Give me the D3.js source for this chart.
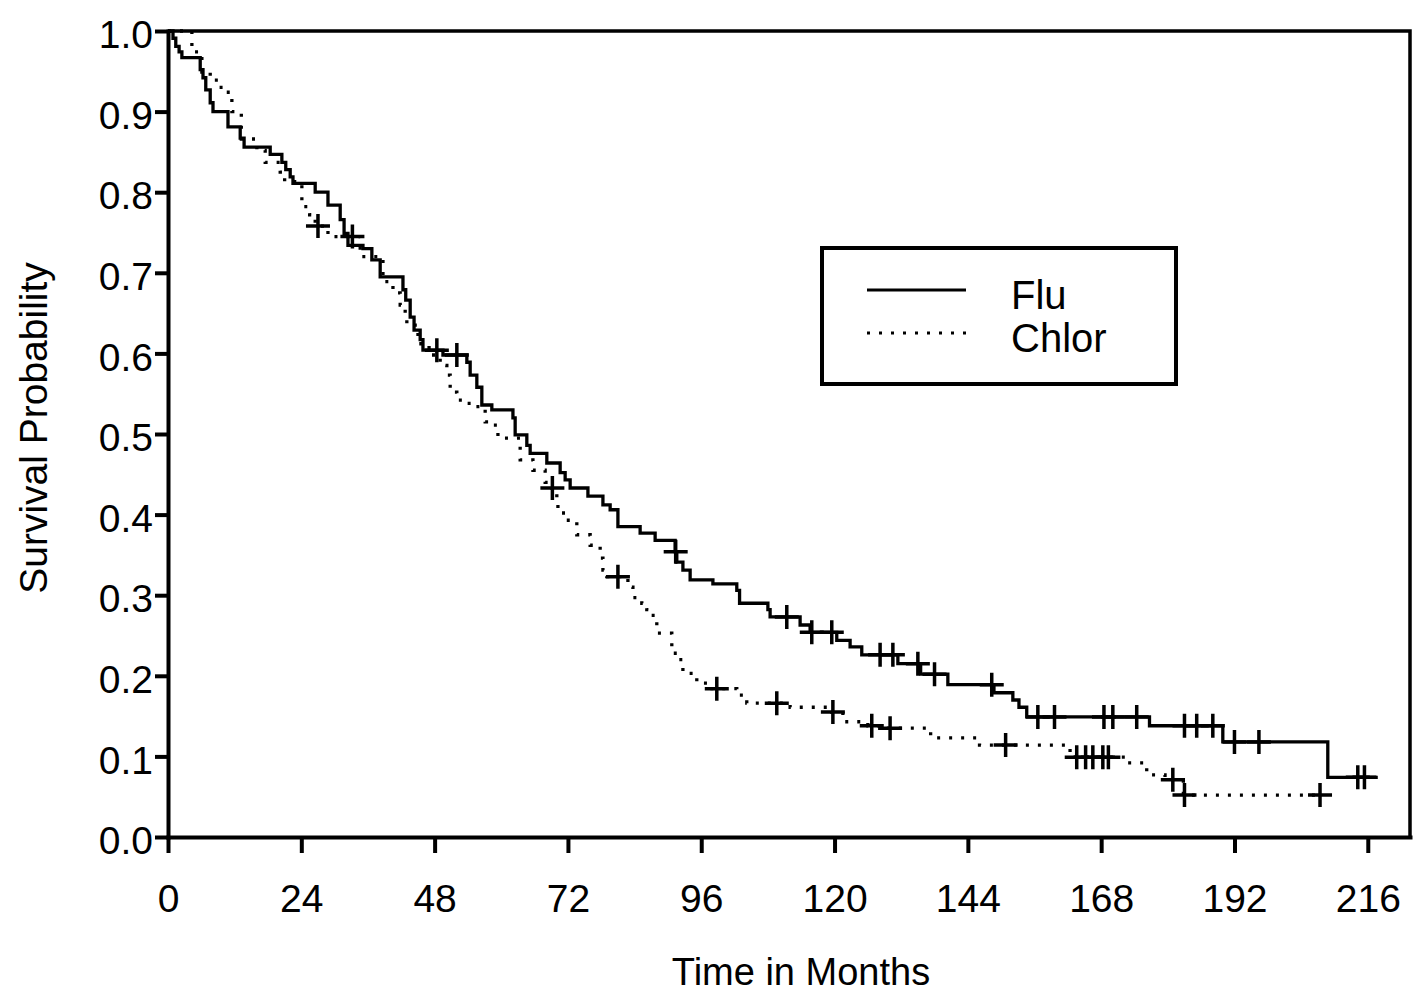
<!DOCTYPE html>
<html>
<head>
<meta charset="utf-8">
<script src="https://cdn.jsdelivr.net/npm/d3@7"></script>
<style>
  body { margin: 0; background: #fff; }
  text { font-family: "Liberation Sans", Arial, sans-serif; fill: #000; }
</style>
</head>
<body>
<div id="chart"></div>
<script>
// Kaplan-Meier curves, Flu vs Chlor
var svgWidth = 1413;
var svgHeight = 995;

// tick labels
var xTicks = [0, 24, 48, 72, 96, 120, 144, 168, 192, 216];
var yTicks = [0, 0.1, 0.2, 0.3, 0.4, 0.5, 0.6, 0.7, 0.8, 0.9, 1.0];

// Flu: step times (months) and survival after each step
var fluTime = [0, 0.9, 1.4, 2.0, 2.5, 5.8, 6.3, 6.8, 7.6, 8.1, 10.8, 13.0, 13.7, 18.4, 20.5, 21.2, 22.0, 22.5,
  26.5, 28.8, 31.0, 31.7, 32.4, 35.1, 36.7, 38.2, 42.3, 42.8, 43.6, 44.3, 45.4, 45.9, 49.5, 53.8, 54.4,
  55.6, 56.5, 58.3, 62.1, 62.5, 64.6, 65.2, 68.2, 70.6, 71.5, 72.4, 75.6, 78.3, 79.6, 81.0, 85.0, 87.7,
  91.3, 91.6, 92.7, 94.0, 98.1, 102.4, 102.9, 108.0, 108.4, 113.8, 115.6, 120.4, 122.8, 124.9, 131.4,
  135.5, 140.4, 148.7, 152.1, 153.2, 154.6, 176.7, 189.9, 208.8, 217.8];
var fluSurv = [1.0, 0.991, 0.981, 0.974, 0.967, 0.952, 0.942, 0.927, 0.911, 0.900, 0.881, 0.867, 0.856, 0.847, 0.837, 0.828, 0.819, 0.811,
  0.800, 0.784, 0.766, 0.749, 0.734, 0.730, 0.716, 0.695, 0.679, 0.666, 0.645, 0.629, 0.617, 0.604, 0.598, 0.589, 0.573,
  0.558, 0.536, 0.530, 0.520, 0.499, 0.486, 0.476, 0.464, 0.452, 0.443, 0.433, 0.423, 0.412, 0.406, 0.385, 0.377, 0.368,
  0.354, 0.341, 0.331, 0.319, 0.314, 0.306, 0.290, 0.282, 0.273, 0.263, 0.254, 0.244, 0.236, 0.226, 0.215,
  0.202, 0.189, 0.179, 0.170, 0.161, 0.149, 0.138, 0.118, 0.074, 0.074];
var fluCensor = [48.4, 52.0, 91.4, 111.4, 115.9, 119.5, 128.2, 130.5, 135.0, 138.0, 148.3, 156.6, 159.6,
  168.5, 170.1, 174.4, 183.0, 185.2, 188.1, 192.0, 196.4, 214.2, 215.4];

// Chlor
var chlorTime = [0, 4.3, 6.1, 7.6, 9.0, 10.3, 11.5, 13.2, 16.0, 17.5, 20.2, 21.0, 24.1, 25.5, 26.5, 28.8,
  34.6, 38.7, 40.5, 41.8, 42.7, 43.0, 45.0, 47.0, 49.0, 50.2, 50.8, 52.0, 53.1, 54.7, 57.1, 58.5, 59.4,
  63.4, 65.7, 67.9, 69.1, 70.0, 70.2, 71.5, 73.6, 76.0, 77.8, 78.3, 79.0, 82.8, 83.7, 85.3, 86.2, 86.8,
  88.0, 90.7, 91.8, 92.7, 95.2, 97.5, 102.4, 104.2, 112.0, 119.5, 121.5, 126.0, 128.0, 137.3, 146.1,
  162.4, 172.8, 176.2, 179.5, 182.8, 207.4];
var chlorSurv = [1.0, 0.974, 0.949, 0.939, 0.930, 0.924, 0.900, 0.866, 0.852, 0.837, 0.825, 0.813, 0.782, 0.772, 0.758, 0.745,
  0.720, 0.689, 0.675, 0.660, 0.648, 0.635, 0.612, 0.598, 0.585, 0.573, 0.552, 0.542, 0.538, 0.534, 0.515, 0.511, 0.495,
  0.468, 0.455, 0.440, 0.433, 0.420, 0.402, 0.393, 0.375, 0.362, 0.346, 0.331, 0.323, 0.310, 0.297, 0.290, 0.282, 0.275,
  0.253, 0.228, 0.220, 0.203, 0.191, 0.184, 0.176, 0.166, 0.161, 0.155, 0.143, 0.138, 0.135, 0.123, 0.114,
  0.099, 0.092, 0.077, 0.071, 0.052, 0.052];
var chlorCensor = [27.0, 33.2, 69.2, 81.0, 98.8, 109.6, 119.7, 126.7, 130.0, 150.8, 163.6, 165.2, 166.5,
  168.3, 169.3, 180.9, 183.0, 207.4];

var svg = d3.select("#chart")
  .append("svg")
  .attr("width", svgWidth)
  .attr("height", svgHeight);

var x = d3.scaleLinear().domain([0, 223.6]).range([168, 1410]);
var y = d3.scaleLinear().domain([0, 1]).range([837, 31]);

// frame (top and right)
svg.append("path")
  .attr("d", `M${x(0)},${y(1)}H${x.range()[1]}V${y(0)}`)
  .attr("fill", "none")
  .attr("stroke", "#000")
  .attr("stroke-width", 3.5);

// y axis
var yAxis = svg.append("g")
  .attr("transform", `translate(${x(0)},0)`)
  .call(d3.axisLeft(y).tickValues(yTicks).tickSize(13).tickSizeOuter(0).tickPadding(2)
    .tickFormat(d3.format(".1f")));
yAxis.select(".domain").attr("stroke-width", 4);
yAxis.selectAll(".tick line").attr("stroke-width", 4);
yAxis.selectAll(".tick text")
  .attr("font-size", "39px")
  .attr("dy", "0.43em");

// x axis
var xAxis = svg.append("g")
  .attr("transform", `translate(0,${y(0)})`)
  .call(d3.axisBottom(x).tickValues(xTicks).tickSize(16).tickSizeOuter(0).tickPadding(31));
xAxis.select(".domain").attr("stroke-width", 4);
xAxis.selectAll(".tick line").attr("stroke-width", 4);
xAxis.selectAll(".tick text").attr("font-size", "39px");
svg.selectAll(".domain").attr("stroke-linecap", "square");

// axis titles
svg.append("text")
  .attr("x", 801)
  .attr("y", 985)
  .attr("text-anchor", "middle")
  .attr("font-size", "38px")
  .text("Time in Months");

svg.append("text")
  .attr("transform", "translate(47,428) rotate(-90)")
  .attr("text-anchor", "middle")
  .attr("font-size", "39px")
  .text("Survival Probability");

var line = d3.line()
  .x(d => x(d[0]))
  .y(d => y(d[1]))
  .curve(d3.curveStepAfter);

function survAt(times, surv, t) {
  return surv[Math.max(0, d3.bisectRight(times, t) - 1)];
}

var curves = [
  {name: "Flu", time: fluTime, surv: fluSurv, censor: fluCensor, dash: null},
  {name: "Chlor", time: chlorTime, surv: chlorSurv, censor: chlorCensor, dash: "3,9"}
];

curves.forEach(function(c) {
  svg.append("path")
    .datum(d3.zip(c.time, c.surv))
    .attr("d", line)
    .attr("fill", "none")
    .attr("stroke", "#000")
    .attr("stroke-width", 3.3)
    .attr("stroke-dasharray", c.dash);

  svg.append("g").selectAll("path")
    .data(c.censor)
    .enter()
    .append("path")
    .attr("transform", d => `translate(${x(d)},${y(survAt(c.time, c.surv, d))})`)
    .attr("d", "M-12,0H12M0,-12V12")
    .attr("stroke", "#000")
    .attr("stroke-width", 3.5);
});

// legend
var legend = svg.append("g");
legend.append("rect")
  .attr("x", 822)
  .attr("y", 248)
  .attr("width", 354)
  .attr("height", 136)
  .attr("fill", "#fff")
  .attr("stroke", "#000")
  .attr("stroke-width", 4);

curves.forEach(function(c, i) {
  var ly = 290 + i * 43;
  legend.append("line")
    .attr("x1", 867)
    .attr("x2", 966)
    .attr("y1", ly)
    .attr("y2", ly)
    .attr("stroke", "#000")
    .attr("stroke-width", 3)
    .attr("stroke-dasharray", c.dash);
  legend.append("text")
    .attr("x", 1011)
    .attr("y", ly + 19)
    .attr("font-size", "40px")
    .text(c.name);
});
</script>
</body>
</html>
